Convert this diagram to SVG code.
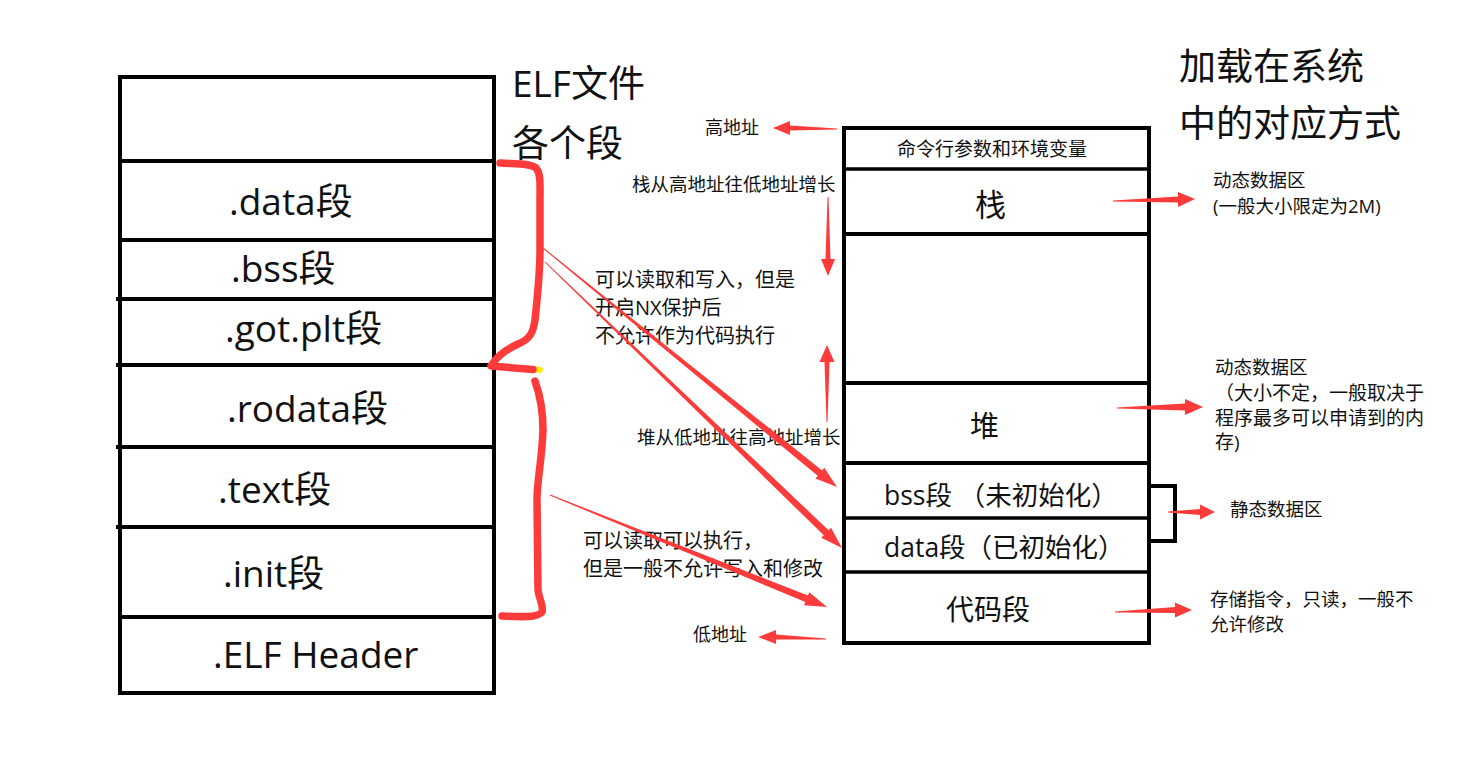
<svg xmlns="http://www.w3.org/2000/svg" width="1478" height="778" viewBox="0 0 1478 778">
<style>
text{font-family:"Open Sans","Noto Sans CJK SC",sans-serif;fill:#111}
.big{font-size:37px}
.ttl{font-size:37px}
.mid{font-size:26.5px}
.md{font-size:20px}
.sm{font-size:18.5px}
.box{fill:#fff;stroke:#000;stroke-width:4}
.div{stroke:#000;stroke-width:4}
.div2{stroke:#000;stroke-width:3.5}
.brace{fill:none;stroke:#fe3b3b;stroke-width:7.5;stroke-linecap:round;stroke-linejoin:round}
.arr{fill:#fe3b3b;stroke:none}
</style>
<rect width="1478" height="778" fill="#fff"/>

<g id="elf-file">
<rect class="box" x="120" y="77" width="374" height="616"/>
<line class="div" x1="120" y1="161" x2="494" y2="161"/>
<line class="div" x1="120" y1="240" x2="494" y2="240"/>
<line class="div" x1="116" y1="299" x2="494" y2="299"/>
<line class="div" x1="116" y1="365" x2="494" y2="365"/>
<line class="div" x1="116" y1="447" x2="494" y2="447"/>
<line class="div" x1="116" y1="527" x2="494" y2="527"/>
<line class="div" x1="120" y1="617" x2="494" y2="617"/>
</g>
<g id="seg-data"><text class="big" x="229" y="215">.data段</text></g>
<g id="seg-bss"><text class="big" x="231" y="282">.bss段</text></g>
<g id="seg-gotplt"><text class="big" x="225" y="342">.got.plt段</text></g>
<g id="seg-rodata"><text class="big" x="227" y="422">.rodata段</text></g>
<g id="seg-text"><text class="big" x="218" y="503">.text段</text></g>
<g id="seg-init"><text class="big" x="223" y="587">.init段</text></g>
<g id="seg-header"><text class="big" x="213" y="668">.ELF Header</text></g>
<g id="title-elf">
<text class="ttl" x="512" y="97">ELF文件</text>
<text class="ttl" x="512" y="157">各个段</text>
</g>

<g id="memory">
<rect class="box" x="844" y="128" width="305" height="515"/>
<line class="div2" x1="844" y1="169" x2="1149" y2="169"/>
<line class="div" x1="844" y1="234" x2="1147" y2="234"/>
<line class="div" x1="844" y1="383" x2="1149" y2="383"/>
<line class="div" x1="844" y1="463" x2="1149" y2="463"/>
<line class="div2" x1="844" y1="518" x2="1149" y2="518"/>
<line class="div2" x1="844" y1="572" x2="1149" y2="572"/>
<path d="M1149,486 H1175 V541 H1149" fill="none" stroke="#000" stroke-width="4"/>
</g>
<g id="mem-args"><text x="897" y="156" style="font-size:19px">命令行参数和环境变量</text></g>
<g id="mem-stack"><text x="975" y="216" style="font-size:31px">栈</text></g>
<g id="mem-heap"><text x="970" y="437" style="font-size:29px">堆</text></g>
<g id="mem-bss"><text class="mid" x="884" y="505">bss段 （未初始化）</text></g>
<g id="mem-data"><text class="mid" x="884" y="557">data段（已初始化）</text></g>
<g id="mem-code"><text x="946" y="620" style="font-size:28px">代码段</text></g>
<g id="title-load">
<text class="ttl" x="1179" y="80">加载在系统</text>
<text class="ttl" x="1179" y="137">中的对应方式</text>
</g>

<g id="notes">
<text x="705" y="134" style="font-size:18px">高地址</text>
<text class="sm" x="632" y="191">栈从高地址往低地址增长</text>
<text class="md" x="595" y="287">可以读取和写入，但是</text>
<text class="md" x="595" y="315">开启NX保护后</text>
<text class="md" x="595" y="343">不允许作为代码执行</text>
<text class="sm" x="637" y="444">堆从低地址往高地址增长</text>
<text class="md" x="583" y="548">可以读取可以执行，</text>
<text class="md" x="583" y="576">但是一般不允许写入和修改</text>
<text x="693" y="641" style="font-size:18px">低地址</text>
<text class="sm" x="1213" y="187">动态数据区</text>
<text class="sm" x="1213" y="213">(一般大小限定为2M)</text>
<text class="sm" x="1215" y="374">动态数据区</text>
<text style="font-size:19px" x="1215" y="400">（大小不定，一般取决于</text>
<text style="font-size:19px" x="1215" y="425">程序最多可以申请到的内</text>
<text style="font-size:19px" x="1215" y="449">存)</text>
<text class="sm" x="1230" y="516">静态数据区</text>
<text class="sm" x="1210" y="606">存储指令，只读，一般不</text>
<text class="sm" x="1210" y="631">允许修改</text>
</g>

<g id="connectors">
<line x1="531" y1="369" x2="540" y2="370" stroke="#ffee00" stroke-width="6" stroke-linecap="round"/>
<path class="brace" d="M500,163 C515,164 530,163 536,168 C541,174 540,185 540,200 L540,250 C540,275 537,300 535,320 C533,333 530,339 518,344 C505,350 497,356 491,366 L533,369.5"/>
<path class="brace" d="M535,381 C540,395 543,410 543,430 C542,460 537,480 537,500 L538,590 C539,600 544,605 542,612 C538,618 520,617 502,616"/>
<polygon class="arr" points="837,128.5 790,125.5 790,121 773,128 790,135 790,130.5 837,129.5"/>
<polygon class="arr" points="826,638.5 776,634.5 776,630 758,637 776,644 776,639.5 826,639.5"/>
<polygon class="arr" points="827.5,197 825.5,259 821,259 828,276 835,259 830.5,259 828.5,197"/>
<polygon class="arr" points="826.5,422 824.5,362 819.5,362 827,345 834.5,362 829.5,362 827.5,422"/>
<polygon class="arr" points="1113,200.5 1178,196.5 1178,192 1195,199 1178,207 1178,202.5 1113,201.5"/>
<polygon class="arr" points="1117,407.5 1185,403.5 1185,399 1203,407 1185,415 1185,410.5 1117,408.5"/>
<polygon class="arr" points="1168,511.5 1200,509 1200,504.5 1215,512 1200,519.5 1200,515 1168,512.5"/>
<polygon class="arr" points="1115,611.5 1175,607 1175,602.5 1192,610 1175,617.5 1175,613 1115,612.5"/>
<polygon class="arr" points="542.7,248.4 817.7,475.8 815.5,478.5 837,487 824.3,467.7 822.1,470.4 543.3,247.6"/>
<polygon class="arr" points="544.65,262.36 823.72,535.26 821.29,537.78 842,548 831.01,527.7 828.58,530.22 545.35,261.64"/>
<polygon class="arr" points="549.81,495.46 805.3,601.99 803.99,605.24 827,607 809.23,592.26 807.92,595.51 550.19,494.54"/>
</g>
</svg>
